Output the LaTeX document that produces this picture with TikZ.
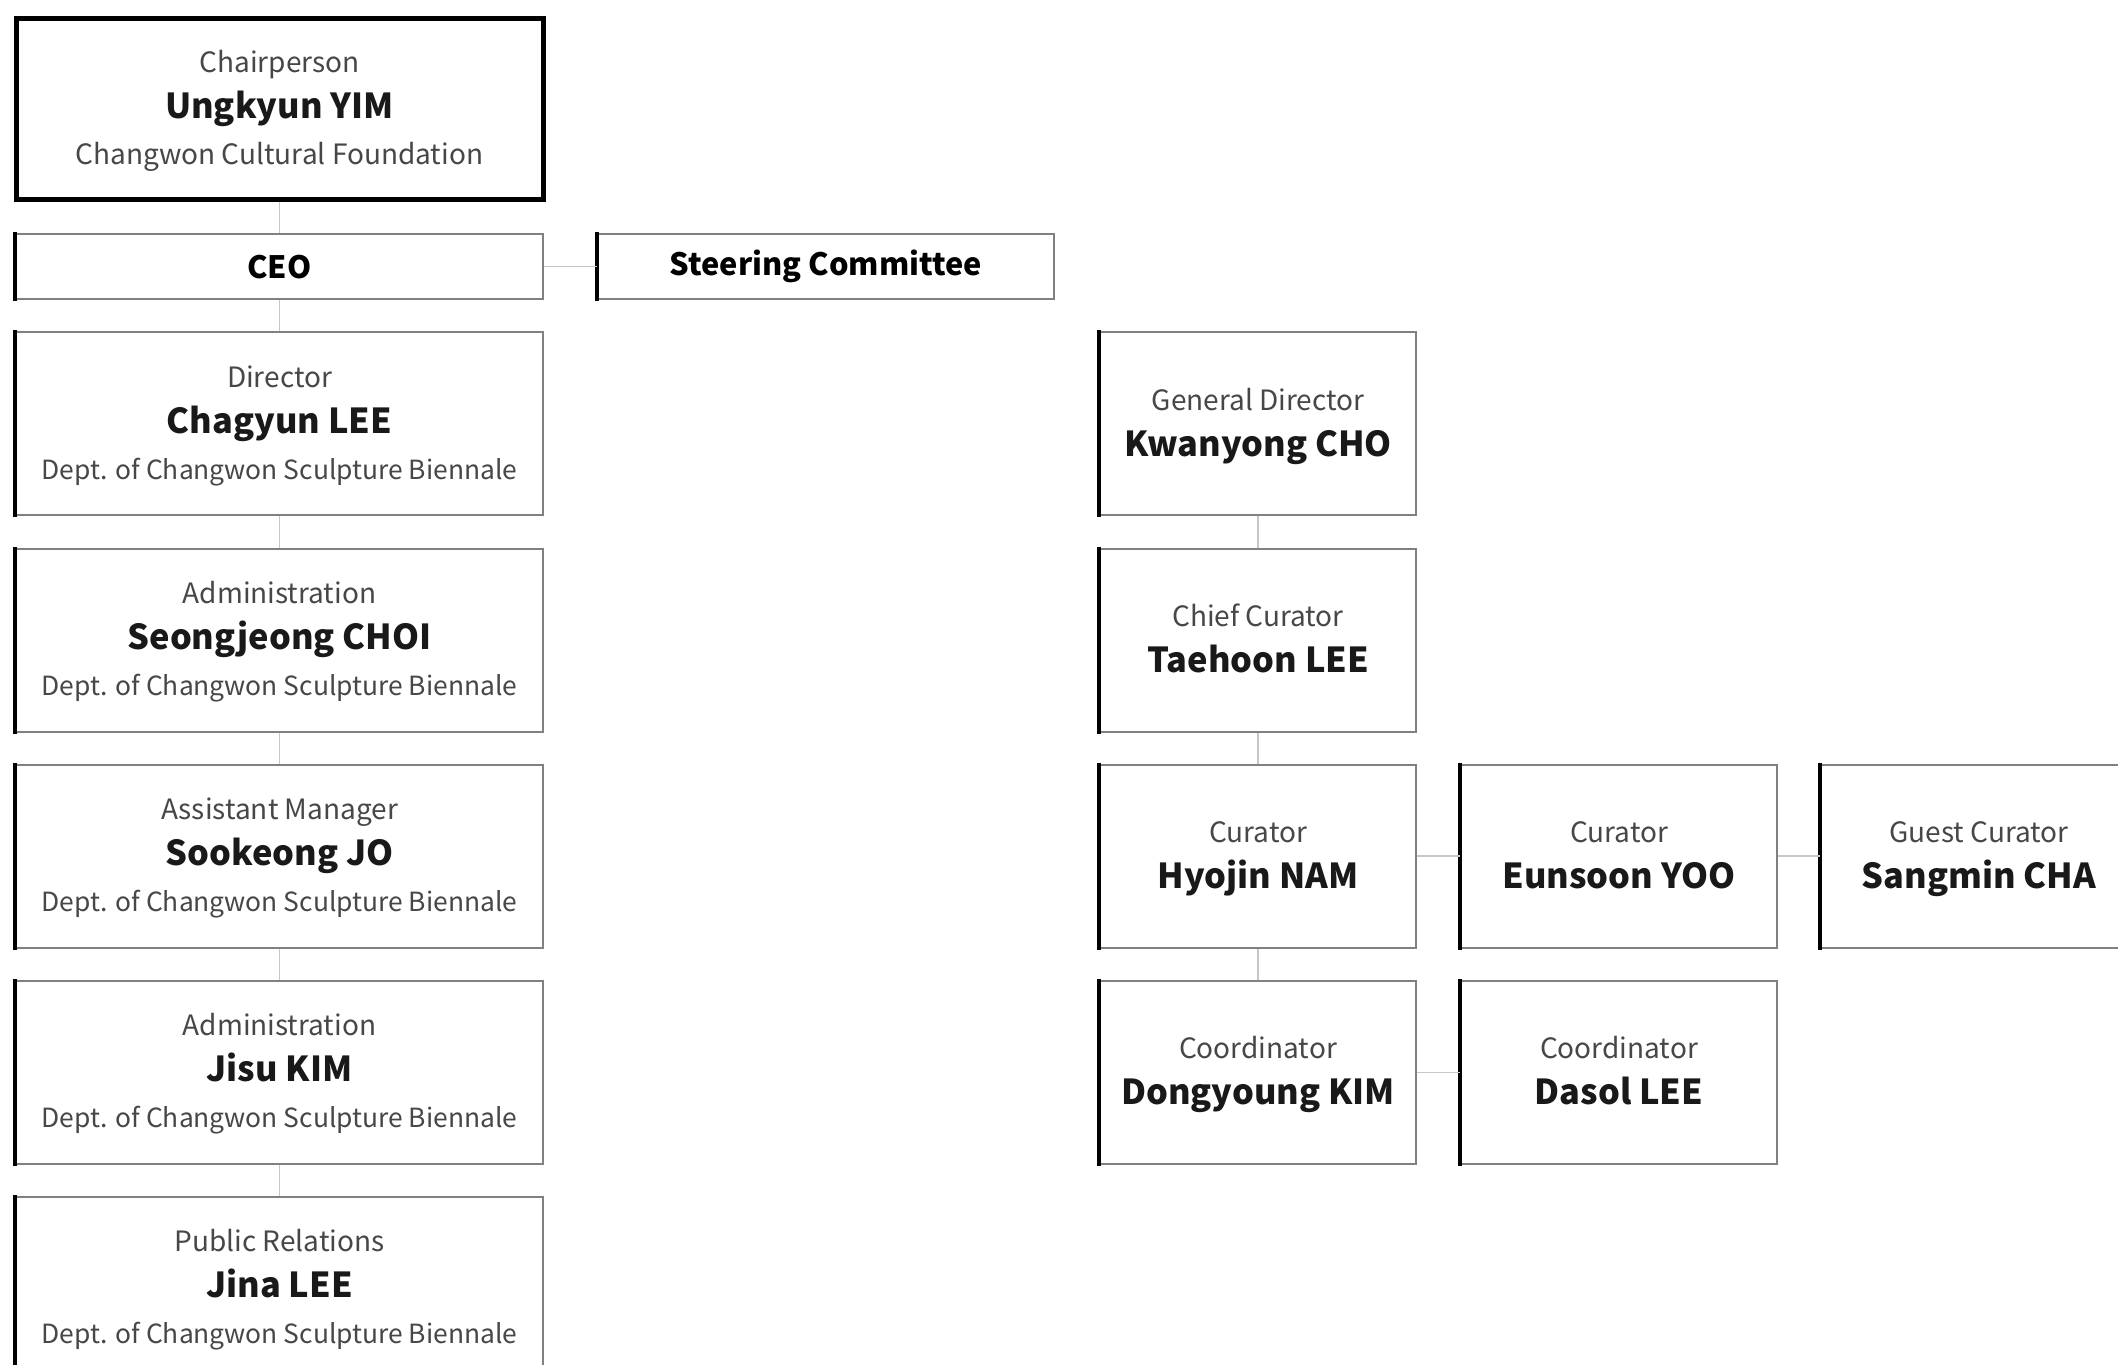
\documentclass[tikz,border=0pt]{standalone}
\usepackage{fontspec}
\setmainfont{Noto Sans CJK KR}
\usetikzlibrary{positioning}

\newcommand{\rolefont}{\fontsize{14}{23}\selectfont\color{black!72}\strut}
\newcommand{\namefont}{\fontsize{17.2}{23}\selectfont\bfseries\color{black!90}\strut}
\newcommand{\deptfont}{\fontsize{13.2}{23}\selectfont\color{black!72}\strut}

\tikzset{
	box/.style = {draw = black!50, line width = 1pt, fill = white, align = center, inner sep = 0pt,
		font = \fontsize{12}{23}\selectfont,
		append after command = {(\tikzlastnode.north west) edge[draw = black, line width = 2pt, shorten <= -.5pt, shorten >= -.5pt] (\tikzlastnode.south west)}},
	card/.style = {box, minimum width = 263.5pt, minimum height = 91.5pt},
	slimbox/.style = {box, minimum width = 263.5pt, minimum height = 32.5pt, font = \fontsize{15.4}{23}\selectfont\bfseries},
	smallcard/.style = {box, minimum width = 158pt, minimum height = 91.5pt, font = \fontsize{12}{21}\selectfont},
	chairbox/.style = {draw = black, line width = 2.5pt, fill = white, align = center, inner sep = 0pt,
		minimum width = 263.5pt, minimum height = 90.5pt, font = \fontsize{12}{23}\selectfont},
	link/.style = {-, draw = black!22, line width = .8pt}
}

\begin{document}
\begin{tikzpicture}
	\useasboundingbox (0pt, 0pt) rectangle (1059pt, -682pt);
	\fill[white] (0pt, 0pt) rectangle (1059pt, -682pt);

	% left column
	\node[chairbox] (chair) at (139.75pt, -54.75pt) {{\rolefont Chairperson}\\{\namefont Ungkyun YIM}\\{\fontsize{14}{23}\selectfont\color{black!72}\strut Changwon Cultural Foundation}};
	\node[slimbox, below = 15.3pt of chair] (ceo) {CEO};
	\node[slimbox, minimum width = 228pt, right = 26.5pt of ceo] (steer) {Steering Committee};
	\node[card, below = 15.6pt of ceo] (director) {{\rolefont Director}\\{\namefont Chagyun LEE}\\{\deptfont Dept. of Changwon Sculpture Biennale}};
	\node[card, below = 15.6pt of director] (adminA) {{\rolefont Administration}\\{\namefont Seongjeong CHOI}\\{\deptfont Dept. of Changwon Sculpture Biennale}};
	\node[card, below = 15.6pt of adminA] (asstmgr) {{\rolefont Assistant Manager}\\{\namefont Sookeong JO}\\{\deptfont Dept. of Changwon Sculpture Biennale}};
	\node[card, below = 15.6pt of asstmgr] (adminB) {{\rolefont Administration}\\{\namefont Jisu KIM}\\{\deptfont Dept. of Changwon Sculpture Biennale}};
	\node[card, below = 15.6pt of adminB] (pr) {{\rolefont Public Relations}\\{\namefont Jina LEE}\\{\deptfont Dept. of Changwon Sculpture Biennale}};

	% curatorial team
	\node[smallcard, right = 277.5pt of director] (gendir) {{\rolefont General Director}\\[-1pt]{\namefont Kwanyong CHO}};
	\node[smallcard, below = 15.6pt of gendir] (chief) {{\rolefont Chief Curator}\\[-1pt]{\namefont Taehoon LEE}};
	\node[smallcard, below = 15.6pt of chief] (curA) {{\rolefont Curator}\\[-1pt]{\namefont Hyojin NAM}};
	\node[smallcard, right = 21.5pt of curA] (curB) {{\rolefont Curator}\\[-1pt]{\namefont Eunsoon YOO}};
	\node[smallcard, right = 21pt of curB] (guest) {{\rolefont Guest Curator}\\[-1pt]{\namefont Sangmin CHA}};
	\node[smallcard, below = 15.6pt of curA] (coordA) {{\rolefont Coordinator}\\[-1pt]{\namefont Dongyoung KIM}};
	\node[smallcard, right = 21.5pt of coordA] (coordB) {{\rolefont Coordinator}\\[-1pt]{\namefont Dasol LEE}};

	\path (chair) edge[link] (ceo);
	\path (ceo) edge[link] (steer);
	\path (ceo) edge[link] (director);
	\path (director) edge[link] (adminA);
	\path (adminA) edge[link] (asstmgr);
	\path (asstmgr) edge[link] (adminB);
	\path (adminB) edge[link] (pr);
	\path (gendir) edge[link] (chief);
	\path (chief) edge[link] (curA);
	\path (curA) edge[link] (coordA);
	\path (curA) edge[link] (curB);
	\path (curB) edge[link] (guest);
	\path (coordA) edge[link] (coordB);
\end{tikzpicture}
\end{document}
